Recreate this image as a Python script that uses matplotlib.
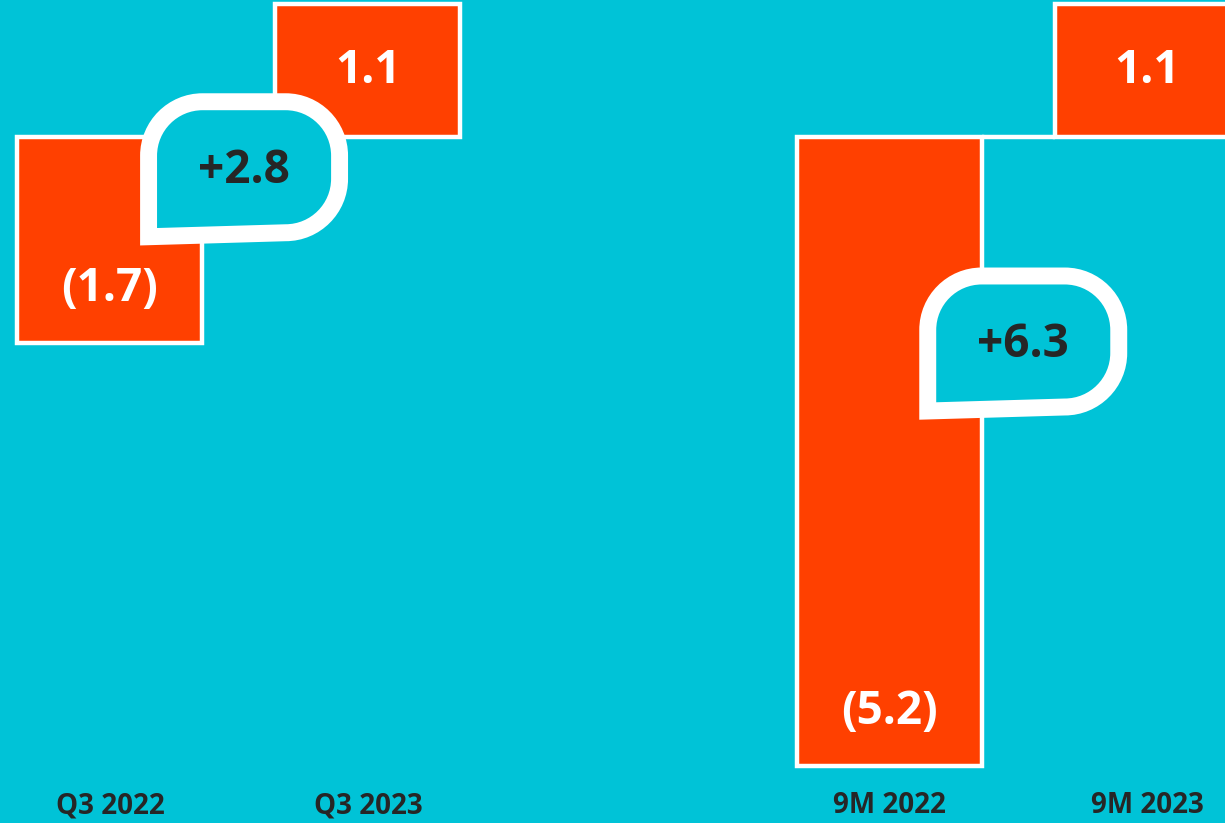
import matplotlib.pyplot as plt
import matplotlib.transforms as mtransforms
from matplotlib.path import Path
from matplotlib.patches import PathPatch

categories = ["Q3 2022", "Q3 2023", "9M 2022", "9M 2023"]
values = [-1.7, 1.1, -5.2, 1.1]
value_labels = ["(1.7)", "1.1", "(5.2)", "1.1"]
positions = [0, 1, 3.02, 4.02]
changes = ["+2.8", "+6.3"]
change_at = [(0.52, -0.25), (3.54, -1.69)]  # bubble centres, data coords

CYAN = "#00C3D7"
ORANGE = "#FF4000"
DARK = "#262626"
FONT = "Open Sans"


def bubble_path(w, h, r, drop):
    # speech bubble centred on (0, 0) in pixels; bottom-left corner stays square
    k = 0.5523 * r
    x0, x1, y0, y1 = -w / 2, w / 2, -h / 2, h / 2
    verts = [
        (x0, y0 - drop),
        (x0, y1 - r),
        (x0, y1 - r + k), (x0 + r - k, y1), (x0 + r, y1),
        (x1 - r, y1),
        (x1 - r + k, y1), (x1, y1 - r + k), (x1, y1 - r),
        (x1, y0 + r),
        (x1, y0 + r - k), (x1 - r + k, y0), (x1 - r, y0),
        (x0, y0 - drop),
        (x0, y0 - drop),
    ]
    codes = [Path.MOVETO, Path.LINETO,
             Path.CURVE4, Path.CURVE4, Path.CURVE4, Path.LINETO,
             Path.CURVE4, Path.CURVE4, Path.CURVE4, Path.LINETO,
             Path.CURVE4, Path.CURVE4, Path.CURVE4, Path.LINETO,
             Path.CLOSEPOLY]
    return Path(verts, codes)


fig = plt.figure(figsize=(12.25, 8.23), dpi=100)
fig.patch.set_facecolor(CYAN)
ax = fig.add_axes([0, 0, 1, 1])
ax.set_facecolor(CYAN)
ax.set_xlim(-0.426, 4.322)
ax.set_ylim(-5.669, 1.132)
ax.axis("off")

width = 0.717
ax.bar(positions, values, width=width, color=ORANGE, edgecolor="white",
       linewidth=3.2, zorder=2)

# zero line joining each pair of bars
for i in (0, 2):
    ax.plot([positions[i] + width / 2, positions[i + 1] - width / 2], [0, 0],
            color="white", lw=3.2, zorder=2, solid_capstyle="butt")

for p, v, lab in zip(positions, values, value_labels):
    y = v / 2 if v > 0 else v + 0.45
    ax.text(p, y, lab, ha="center", va="center", color="white",
            fontsize=33, fontweight="bold", family=FONT, zorder=3)

for p, cat in zip(positions, categories):
    ax.text(p, 0.0207, cat, transform=ax.get_xaxis_transform(), ha="center",
            va="center", color=DARK, fontsize=20, fontweight="bold", family=FONT)

shape = bubble_path(191, 131, 54, 4)
shape = Path(shape.vertices / fig.dpi, shape.codes)
for (cx, cy), lab in zip(change_at, changes):
    trans = fig.dpi_scale_trans + mtransforms.ScaledTranslation(cx, cy, ax.transData)
    ax.add_patch(PathPatch(shape, transform=trans, facecolor=CYAN,
                           edgecolor="white", lw=12.2, joinstyle="miter", zorder=4))
    ax.text(cx, cy - 0.025, lab, ha="center", va="center", color=DARK,
            fontsize=33, fontweight="bold", family=FONT, zorder=5)

fig.savefig("out.png", dpi=100, facecolor=CYAN)
